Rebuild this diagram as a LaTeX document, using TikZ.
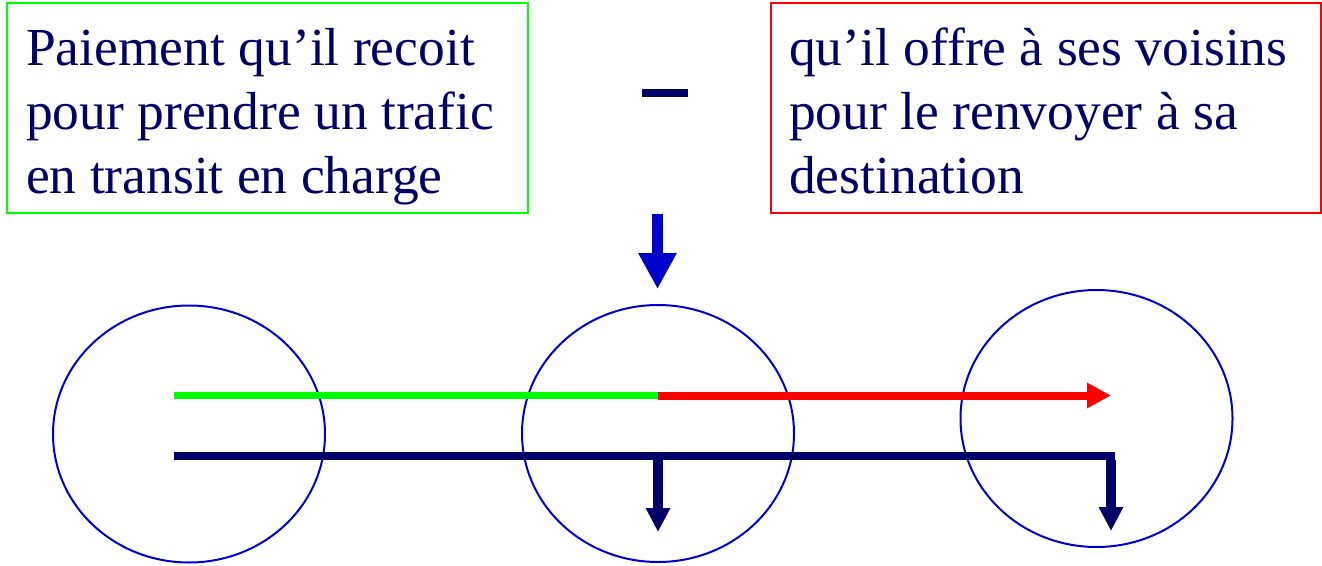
\documentclass[tikz,border=0pt]{standalone}
\usepackage{fontspec}
\setmainfont{Liberation Serif}
\usetikzlibrary{arrows.meta,shapes.geometric}
\definecolor{navy}{RGB}{0,0,102}
\definecolor{cblue}{RGB}{0,0,204}
\definecolor{cgreen}{RGB}{0,255,0}
\definecolor{cred}{RGB}{255,0,0}
\begin{document}
\begin{tikzpicture}[x=1pt,y=-1pt,
  txt/.style={anchor=base west,inner sep=0pt,text=navy,font=\fontsize{53.5}{64}\selectfont},
  boxg/.style={draw=cgreen,line width=2pt,inner sep=0pt},
  boxr/.style={draw=cred,line width=2pt,inner sep=0pt},
  as/.style={draw=cblue,line width=2pt,ellipse,inner sep=0pt,minimum width=272pt,minimum height=257pt},
  navyarrow/.style={draw=navy,line width=10pt,-{Triangle[length=24pt,width=23pt]}}
]
\useasboundingbox (0,0) rectangle (1322,565);
% boxes
\node[boxg,minimum width=521pt,minimum height=210pt] (gbox) at (267.5,108) {};
\node[boxr,minimum width=550pt,minimum height=210pt] (rbox) at (1046,108) {};
% texts
\node[txt] (g1) at (26,65) {Paiement qu’il recoit};
\node[txt] (g2) at (26,129) {pour prendre un trafic};
\node[txt] (g3) at (26,193) {en transit en charge};
\node[txt] (r1) at (789,65) {qu’il offre à ses voisins};
\node[txt] (r2) at (789,129) {pour le renvoyer à sa};
\node[txt] (r3) at (789,193) {destination};
% minus
\node[fill=navy,inner sep=0pt,minimum width=46pt,minimum height=8pt] (minus) at (665,93) {};
% big blue arrow
\coordinate (bstart) at (657.5,214);
\coordinate (bend) at (657.5,289);
\draw[cblue,line width=11pt,-{Triangle[length=36pt,width=36pt]}] (bstart) -- (bend);
% ellipses
\node[as] (e1) at (189,434) {};
\node[as] (e2) at (658,433.5) {};
\node[as] (e3) at (1096.5,418.5) {};
% lines
\coordinate (gs) at (174,395.5);
\coordinate (gm) at (658,395.5);
\coordinate (rt) at (1111,395.5);
\draw[cgreen,line width=7pt] (gs) -- (gm);
\draw[cred,line width=8pt,-{Triangle[length=24pt,width=24pt]}] (gm) -- (rt);
\coordinate (ns) at (174,456);
\coordinate (nm) at (658,456);
\coordinate (nc) at (1111,456);
\coordinate (nce) at (1115,456);
\coordinate (nmt) at (658,532);
\coordinate (nct) at (1111,531);
\draw[navy,line width=8pt] (ns) -- (nce);
\draw[navyarrow] ([yshift=-4pt]nc) -- (nct);
\draw[navyarrow] ([yshift=-4pt]nm) -- (nmt);
\end{tikzpicture}
\end{document}
